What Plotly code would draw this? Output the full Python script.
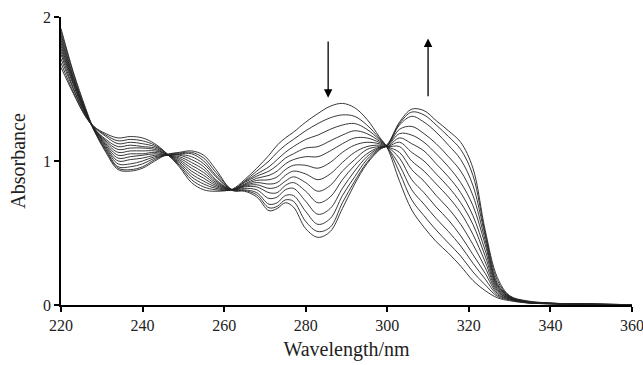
import plotly.graph_objects as go

wavelength_nm = [220, 223, 226, 228, 231, 234, 237, 240, 243, 246, 249, 252, 255, 258,
                 262, 265, 268, 271, 273, 275, 277, 280, 283, 286, 289, 292, 295, 298,
                 300, 303, 306, 309, 312, 315, 318, 321, 324, 327, 330, 334, 340, 350, 360]

spectrum_01 = [1.65,1.47,1.31,1.24,1.19,1.16,1.17,1.16,1.12,1.05,0.96,0.85,0.80,0.79,0.805,0.87,0.95,1.04,1.11,1.16,1.20,1.27,1.33,1.38,1.40,1.37,1.29,1.17,1.09,0.86,0.66,0.54,0.44,0.36,0.27,0.17,0.10,0.05,0.03,0.015,0.008,0.005,0.003]
spectrum_02 = [1.68,1.48,1.31,1.24,1.18,1.14,1.15,1.14,1.11,1.05,0.97,0.87,0.82,0.80,0.80,0.86,0.93,1.00,1.06,1.11,1.15,1.21,1.26,1.30,1.32,1.31,1.25,1.16,1.095,0.92,0.73,0.62,0.52,0.43,0.34,0.23,0.14,0.06,0.035,0.016,0.008,0.005,0.003]
spectrum_03 = [1.71,1.50,1.32,1.24,1.17,1.12,1.13,1.12,1.10,1.05,0.98,0.89,0.84,0.81,0.80,0.855,0.91,0.96,1.01,1.06,1.10,1.15,1.18,1.22,1.25,1.26,1.22,1.15,1.095,0.97,0.80,0.70,0.60,0.51,0.41,0.29,0.18,0.07,0.04,0.017,0.009,0.005,0.003]
spectrum_04 = [1.74,1.51,1.32,1.23,1.15,1.10,1.11,1.10,1.09,1.045,0.99,0.91,0.86,0.82,0.80,0.85,0.895,0.93,0.97,1.02,1.05,1.09,1.10,1.14,1.18,1.21,1.19,1.14,1.10,1.02,0.87,0.78,0.68,0.59,0.48,0.35,0.22,0.08,0.04,0.018,0.009,0.005,0.003]
spectrum_05 = [1.76,1.53,1.33,1.23,1.14,1.08,1.09,1.09,1.08,1.045,1.00,0.93,0.88,0.83,0.80,0.84,0.88,0.90,0.93,0.98,1.01,1.03,1.03,1.07,1.12,1.16,1.16,1.13,1.10,1.06,0.94,0.86,0.76,0.67,0.56,0.42,0.26,0.09,0.045,0.019,0.01,0.005,0.003]
spectrum_06 = [1.78,1.54,1.33,1.23,1.13,1.06,1.07,1.07,1.07,1.045,1.01,0.95,0.90,0.84,0.80,0.835,0.865,0.87,0.89,0.94,0.97,0.97,0.95,0.99,1.06,1.11,1.13,1.12,1.10,1.10,1.00,0.93,0.84,0.75,0.64,0.49,0.30,0.10,0.045,0.02,0.01,0.005,0.003]
spectrum_07 = [1.80,1.55,1.34,1.23,1.12,1.04,1.05,1.05,1.06,1.04,1.02,0.97,0.92,0.85,0.80,0.83,0.85,0.84,0.85,0.90,0.93,0.91,0.87,0.91,0.99,1.06,1.10,1.11,1.10,1.13,1.06,1.00,0.91,0.82,0.71,0.56,0.34,0.11,0.05,0.021,0.01,0.005,0.003]
spectrum_08 = [1.82,1.56,1.34,1.23,1.11,1.02,1.03,1.04,1.05,1.04,1.03,0.99,0.94,0.86,0.80,0.825,0.835,0.81,0.82,0.86,0.89,0.85,0.79,0.83,0.93,1.01,1.08,1.10,1.10,1.16,1.12,1.07,0.98,0.89,0.78,0.62,0.38,0.12,0.05,0.022,0.011,0.005,0.003]
spectrum_09 = [1.84,1.57,1.35,1.23,1.10,1.00,1.01,1.02,1.04,1.04,1.04,1.01,0.96,0.87,0.80,0.82,0.82,0.78,0.78,0.83,0.85,0.79,0.71,0.75,0.87,0.97,1.05,1.095,1.105,1.19,1.18,1.13,1.05,0.96,0.85,0.69,0.42,0.13,0.055,0.023,0.011,0.005,0.003]
spectrum_10 = [1.86,1.58,1.35,1.22,1.09,0.98,0.98,1.00,1.03,1.04,1.045,1.03,0.98,0.89,0.80,0.81,0.80,0.74,0.75,0.80,0.81,0.72,0.63,0.67,0.81,0.93,1.03,1.09,1.105,1.22,1.24,1.19,1.12,1.03,0.93,0.76,0.45,0.14,0.055,0.024,0.012,0.005,0.003]
spectrum_11 = [1.88,1.59,1.35,1.22,1.08,0.96,0.96,0.98,1.02,1.04,1.05,1.05,1.00,0.90,0.80,0.80,0.78,0.70,0.71,0.76,0.76,0.65,0.56,0.60,0.76,0.89,1.01,1.085,1.11,1.25,1.31,1.27,1.20,1.11,1.01,0.83,0.48,0.15,0.06,0.025,0.012,0.005,0.003]
spectrum_12 = [1.90,1.61,1.36,1.22,1.07,0.95,0.94,0.96,1.01,1.045,1.055,1.06,1.02,0.92,0.80,0.795,0.765,0.675,0.685,0.73,0.72,0.58,0.51,0.54,0.71,0.86,0.99,1.08,1.11,1.26,1.34,1.32,1.25,1.17,1.08,0.90,0.50,0.17,0.06,0.027,0.013,0.005,0.003]
spectrum_13 = [1.92,1.62,1.37,1.22,1.06,0.94,0.93,0.95,1.00,1.045,1.06,1.07,1.04,0.94,0.795,0.79,0.75,0.655,0.67,0.71,0.68,0.53,0.47,0.51,0.67,0.84,0.98,1.075,1.115,1.27,1.36,1.35,1.28,1.21,1.13,0.95,0.52,0.19,0.065,0.03,0.014,0.005,0.003]

spectra = [spectrum_01, spectrum_02, spectrum_03, spectrum_04, spectrum_05, spectrum_06, spectrum_07,
           spectrum_08, spectrum_09, spectrum_10, spectrum_11, spectrum_12, spectrum_13]

x_ticks = [220, 240, 260, 280, 300, 320, 340, 360]
y_ticks = [0, 1, 2]

# arrows: (wavelength, tail absorbance, head absorbance)
arrow_down = (285.5, 1.84, 1.44)
arrow_up = (310, 1.44, 1.85)

fig = go.Figure()
for s in spectra:
    fig.add_trace(go.Scatter(x=wavelength_nm, y=s, mode="lines", line_shape="spline",
                             line=dict(color="#222222", width=0.9), showlegend=False,
                             hoverinfo="skip"))

for (wx, y0, y1) in (arrow_down, arrow_up):
    fig.add_annotation(x=wx, y=y1, ax=wx, ay=y0, xref="x", yref="y", axref="x", ayref="y",
                       showarrow=True, arrowhead=2, arrowsize=1.3, arrowwidth=1.3,
                       arrowcolor="black", text="")

font_family = "Liberation Serif, Times New Roman, serif"
fig.update_layout(
    width=643, height=365,
    margin=dict(l=61, r=11, t=17, b=60, autoexpand=False),
    paper_bgcolor="white", plot_bgcolor="white",
    font=dict(family=font_family, color="#222222", size=16),
    xaxis=dict(range=[220, 360], tickvals=x_ticks, showgrid=False, zeroline=False,
               automargin=False, ticklabeloverflow="allow",
               showline=True, linecolor="black", linewidth=1.5, ticks="outside",
               ticklen=5, tickwidth=1.5, tickcolor="black",
               tickfont=dict(size=16, family=font_family),
               title=dict(text="Wavelength/nm", font=dict(size=20, family=font_family), standoff=9)),
    yaxis=dict(range=[0, 2], tickvals=y_ticks, showgrid=False, zeroline=False,
               automargin=False, ticklabeloverflow="allow",
               showline=True, linecolor="black", linewidth=1.5, ticks="outside",
               ticklen=5, tickwidth=1.5, tickcolor="black",
               tickfont=dict(size=16, family=font_family),
               title=dict(text="Absorbance", font=dict(size=20, family=font_family), standoff=12)),
)

fig.write_html("out.html", config={"displayModeBar": False},
               post_script="document.body.style.margin='0';document.body.style.overflow='hidden';")
